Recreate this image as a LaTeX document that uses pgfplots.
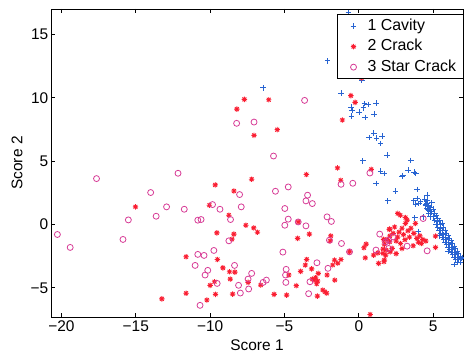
\documentclass[border=0pt]{standalone}
\usepackage{fontspec}
\setmainfont{Liberation Sans}
\usepackage{pgfplots}
\pgfplotsset{compat=1.18}
\usetikzlibrary{calc}

\definecolor{cavblue}{RGB}{40,100,210}
\definecolor{crackred}{RGB}{250,30,50}
\definecolor{starmag}{RGB}{215,60,150}

% eight-spoke asterisk (plus and cross combined)
\pgfdeclareplotmark{matstar}{%
  \pgfpathmoveto{\pgfqpoint{-\pgfplotmarksize}{0pt}}\pgfpathlineto{\pgfqpoint{\pgfplotmarksize}{0pt}}%
  \pgfpathmoveto{\pgfqpoint{0pt}{-\pgfplotmarksize}}\pgfpathlineto{\pgfqpoint{0pt}{\pgfplotmarksize}}%
  \pgfpathmoveto{\pgfqpoint{-0.707\pgfplotmarksize}{-0.707\pgfplotmarksize}}\pgfpathlineto{\pgfqpoint{0.707\pgfplotmarksize}{0.707\pgfplotmarksize}}%
  \pgfpathmoveto{\pgfqpoint{-0.707\pgfplotmarksize}{0.707\pgfplotmarksize}}\pgfpathlineto{\pgfqpoint{0.707\pgfplotmarksize}{-0.707\pgfplotmarksize}}%
  \pgfusepathqstroke}

\newcommand{\chartfont}{\fontsize{15.5}{18}\selectfont}

\begin{document}
\begin{tikzpicture}
\begin{axis}[
  scale only axis,
  width=412bp, height=308bp,
  xmin=-20.7, xmax=7, ymin=-7.3, ymax=17,
  xtick={-20,-15,-10,-5,0,5},
  xticklabels={−20,−15,−10,−5,0,5},
  ytick={-5,0,5,10,15},
  yticklabels={−5,0,5,10,15},
  tick align=inside,
  major tick length=4.3bp,
  axis line style={line width=0.8bp},
  every tick/.style={black, line width=0.8bp},
  tick label style={font=\chartfont},
  yticklabel style={inner xsep=2.5bp},
  label style={font=\chartfont},
  xlabel={Score 1},
  ylabel={Score 2},
  xlabel style={at={(axis description cs:0.5,-0.0909)}, anchor=center},
  ylabel style={at={(axis description cs:-0.0825,0.5)}, anchor=center},
  every axis plot post/.append style={
    legend image code/.code={%
      \path[draw=none, fill=none] (0bp,0bp) -- (23bp,0bp);
      \draw[##1] plot coordinates {(12bp,0bp)};}},
  legend style={at={(rel axis cs:1,1)}, anchor=north east, xshift=0.5bp, yshift=-5bp,
    draw=black, line width=0.8bp, fill=white, font=\fontsize{16}{19}\selectfont,
    cells={anchor=west}, inner xsep=4bp, inner ysep=1.5bp, row sep=0pt,
    nodes={inner sep=3bp, text height=11.5bp, text depth=3bp}},
  legend cell align=left,
  clip=true,
]
\coordinate (sw) at (rel axis cs:0,0);
\coordinate (ne) at (rel axis cs:1,1);

% group 1: cavity
\addplot[only marks, mark=+, mark size=2.8bp, cavblue, line width=1bp] coordinates {
(-6.44,10.79) (-2.1,12.9) (-0.7,16.7) (-0.02,11.76) (0.2,11.36)
(-1.2,10.36) (-0.52,9.26) (-0.45,9.02) (0.38,9.53) (0.63,9.45)
(1.17,9.57) (0.31,9.21) (0.02,8.87) (-0.5,8.55) (0.42,8.45)
(1.03,8.71) (1.01,7.21) (0.68,6.85) (1.19,6.82) (1.57,6.98)
(1.46,6.38) (1.91,5.46) (0.27,5.01) (3.49,5.06) (1.46,4.2)
(1.69,4.02) (3.31,4.28) (3.72,4.12) (3.83,4.02) (2.95,3.86)
(2.9,3.78) (1.17,3.23) (2.45,2.62) (3.92,2.76) (4.59,2.31)
(1.94,1.86) (3.7,1.86) (3.92,2.05) (4.14,1.78) (3.8,1.6)
(4.03,1.65) (4.57,1.65) (4.48,1.52) (4.7,1.39) (4.59,1.26)
(4.82,1.18) (4.68,1.13) (4.84,0.87) (4.32,0.6) (3.76,0.52)
(4.0,-0.55)
(4.4,2.0) (4.6,1.9) (4.5,1.6) (4.7,1.5) (4.9,1.7)
(4.8,1.3) (4.6,1.2) (5.0,1.2) (4.9,1.0) (4.7,0.9)
(5.1,0.9) (5.0,0.6) (5.2,0.7) (4.8,0.6) (5.3,0.5)
(5.1,0.3) (5.3,0.2) (5.4,0.3) (5.2,0.0) (5.5,0.0)
(5.6,0.1) (5.3,-0.2) (5.5,-0.3) (5.7,-0.2) (5.4,-0.5)
(5.6,-0.5) (5.8,-0.5) (5.5,-0.7) (5.7,-0.8) (5.9,-0.7)
(5.6,-1.0) (5.8,-1.0) (6.0,-0.9) (5.4,-0.9) (5.7,-1.2)
(5.9,-1.2) (6.1,-1.1) (5.8,-1.4) (6.0,-1.4) (6.2,-1.3)
(5.9,-1.6) (6.1,-1.6) (6.3,-1.5) (6.0,-1.8) (6.2,-1.8)
(6.4,-1.7) (6.1,-2.0) (6.3,-2.0) (6.5,-1.9) (6.2,-2.2)
(6.4,-2.2) (6.6,-2.1) (6.0,-2.1) (6.3,-2.4) (6.5,-2.4)
(6.7,-2.3) (6.4,-2.6) (6.6,-2.6) (6.8,-2.5) (6.5,-2.8)
(6.7,-2.8) (6.9,-2.7) (6.6,-3.0) (6.8,-3.0) (6.4,-3.15)
(6.95,-2.6)
};
\addlegendentry{1 Cavity}

% group 2: crack
\addplot[only marks, mark=matstar, mark size=2.7bp, crackred, line width=0.9bp] coordinates {
(-15.02,1.39) (-13.25,-5.87) (-9.66,3.12) (-10.05,1.52) (-8.74,0.73)
(-9.55,-0.66) (-8.53,-1.16) (-11.62,-2.55) (-9.51,-2.76) (-9.14,-3.42)
(-8.70,-3.73) (-8.65,-4.31) (-9.71,-4.52) (-10.0,-4.8) (-11.62,-5.43)
(-9.64,-5.51) (-10.22,-5.96) (-8.49,-5.49) (-8.4,2.64) (-7.70,9.87)
(-8.2,9.1) (-7.05,7.03) (-7.21,3.57) (-6.06,9.84) (-7.6,-0.06)
(-7.07,-0.27) (-6.82,-0.61) (-8.4,-0.76) (-8.34,-3.76) (-7.45,-4.57)
(-6.6,-4.78) (-5.49,7.48) (-0.54,10.16) (-0.25,9.63) (-1.11,8.24)
(-1.44,4.46) (0.83,4.35) (-3.53,3.94) (-1.22,3.49) (0.18,11.57)
(-4.08,0.2) (-4.12,-1.1) (-3.33,-0.76) (-1.89,-0.9) (-1.93,-1.3)
(-0.63,-2.16) (0.34,-1.84) (0.49,-1.55) (0.43,-2.63) (-3.51,-2.76)
(-3.6,-3.2) (-1.64,-2.81) (-1.42,-3.05) (-1.76,-3.2) (-1.2,-2.76)
(-3.18,-3.5) (-3.92,-3.7) (-2.14,-3.99) (-2.73,-3.86) (-2.91,-4.2)
(-3.13,-4.31) (-2.77,-4.46) (-2.84,-4.68) (-3.02,-4.39) (-4.71,-3.99)
(-1.62,-4.39) (-4.21,-4.83) (-2.43,-5.17) (-2.16,-5.43) (-2.28,-5.31)
(-2.79,-5.65) (-5.7,-5.51) (-4.86,-5.57) (0.76,-7.1)
(2.05,-0.39) (2.09,-0.9) (1.28,-2.24) (1.62,-1.94) (1.84,-2.02)
(1.8,-2.42) (1.33,-3.07) (1.69,-2.94) (2.61,0.87) (2.79,0.73)
(3.13,0.55) (3.24,0.34) (3.13,0.08) (3.8,0.08) (2.07,-0.37)
(1.66,-1.18) (1.89,-1.18) (2.07,-1.37) (1.71,-1.55) (3.65,-1.68)
(5.15,-1.81) (5.15,-0.92) (0.99,-2.42) (1.62,-2.28) (1.71,-2.81)
(2.11,-2.16) (2.23,-1.89) (2.7,-0.6) (2.9,-0.3) (3.0,-0.8)
(2.6,-1.0) (3.3,-0.5) (3.5,-0.3) (2.5,-1.3) (2.8,-1.5)
(3.1,-1.2) (3.4,-1.0) (2.4,-0.2) (2.3,-0.7) (3.9,-1.1)
(4.1,-0.9) (4.3,-1.2) (4.2,-1.5) (4.5,-1.3) (4.0,-1.4)
(2.9,-1.9) (2.5,-2.3) (3.7,-0.7)
};
\addlegendentry{2 Crack}

% group 3: star crack
\addplot[only marks, mark=o, mark size=3.0bp, starmag, line width=0.8bp] coordinates {
(-17.64,3.62) (-14.0,2.52) (-15.5,0.36) (-13.63,0.65) (-20.27,-0.79)
(-19.41,-1.81) (-15.86,-1.18) (-12.16,4.04) (-12.93,1.39) (-11.74,1.2)
(-10.83,0.34) (-10.61,0.39) (-9.84,1.57) (-9.34,1.2) (-8.63,0.39)
(-8.74,-1.29) (-9.75,-2.05) (-10.83,-2.36) (-10.41,-2.44) (-11.01,-3.23)
(-10.16,-3.62) (-10.34,-3.99) (-9.53,-4.65) (-10.68,-6.38) (-8.22,7.98)
(-7.05,8.08) (-8.02,2.36) (-7.91,1.39) (-8.36,-3.23) (-7.21,-3.86)
(-7.45,-4.31) (-6.44,-4.57) (-6.22,-4.39) (-8.09,-4.8) (-7.41,-5.09)
(-7.97,-5.41) (-3.65,9.79) (-5.74,5.4) (0.74,4.06) (-5.61,2.62)
(-4.75,2.96) (-3.45,2.31) (-1.2,3.17) (-0.41,3.25) (-3.56,1.86)
(-3.13,1.65) (-4.98,1.26) (-4.75,0.42) (-4.98,-0.06) (-4.08,0.2)
(-3.56,-0.11) (-2.14,0.6) (-1.85,0.24) (-1.98,-1.24) (-1.17,-1.5)
(-5.11,-2.18) (-0.63,-2.16) (-2.82,-3.02) (-2.08,-3.46) (-4.89,-3.54)
(-4.93,-3.99) (-4.91,-4.57) (-3.29,-4.52) (-3.38,-5.46) (1.4,-0.76)
(1.15,-2.02) (1.8,-1.37) (2.3,-0.98) (2.0,-1.24) (3.24,-1.71)
(4.32,0.47) (4.59,-2.08) (2.0,-1.89)
};
\addlegendentry{3 Star Crack}
\end{axis}
\pgfresetboundingbox
\useasboundingbox ($(sw)+(-51bp,-38bp)$) rectangle ($(ne)+(1bp,9bp)$);
\end{tikzpicture}
\end{document}
